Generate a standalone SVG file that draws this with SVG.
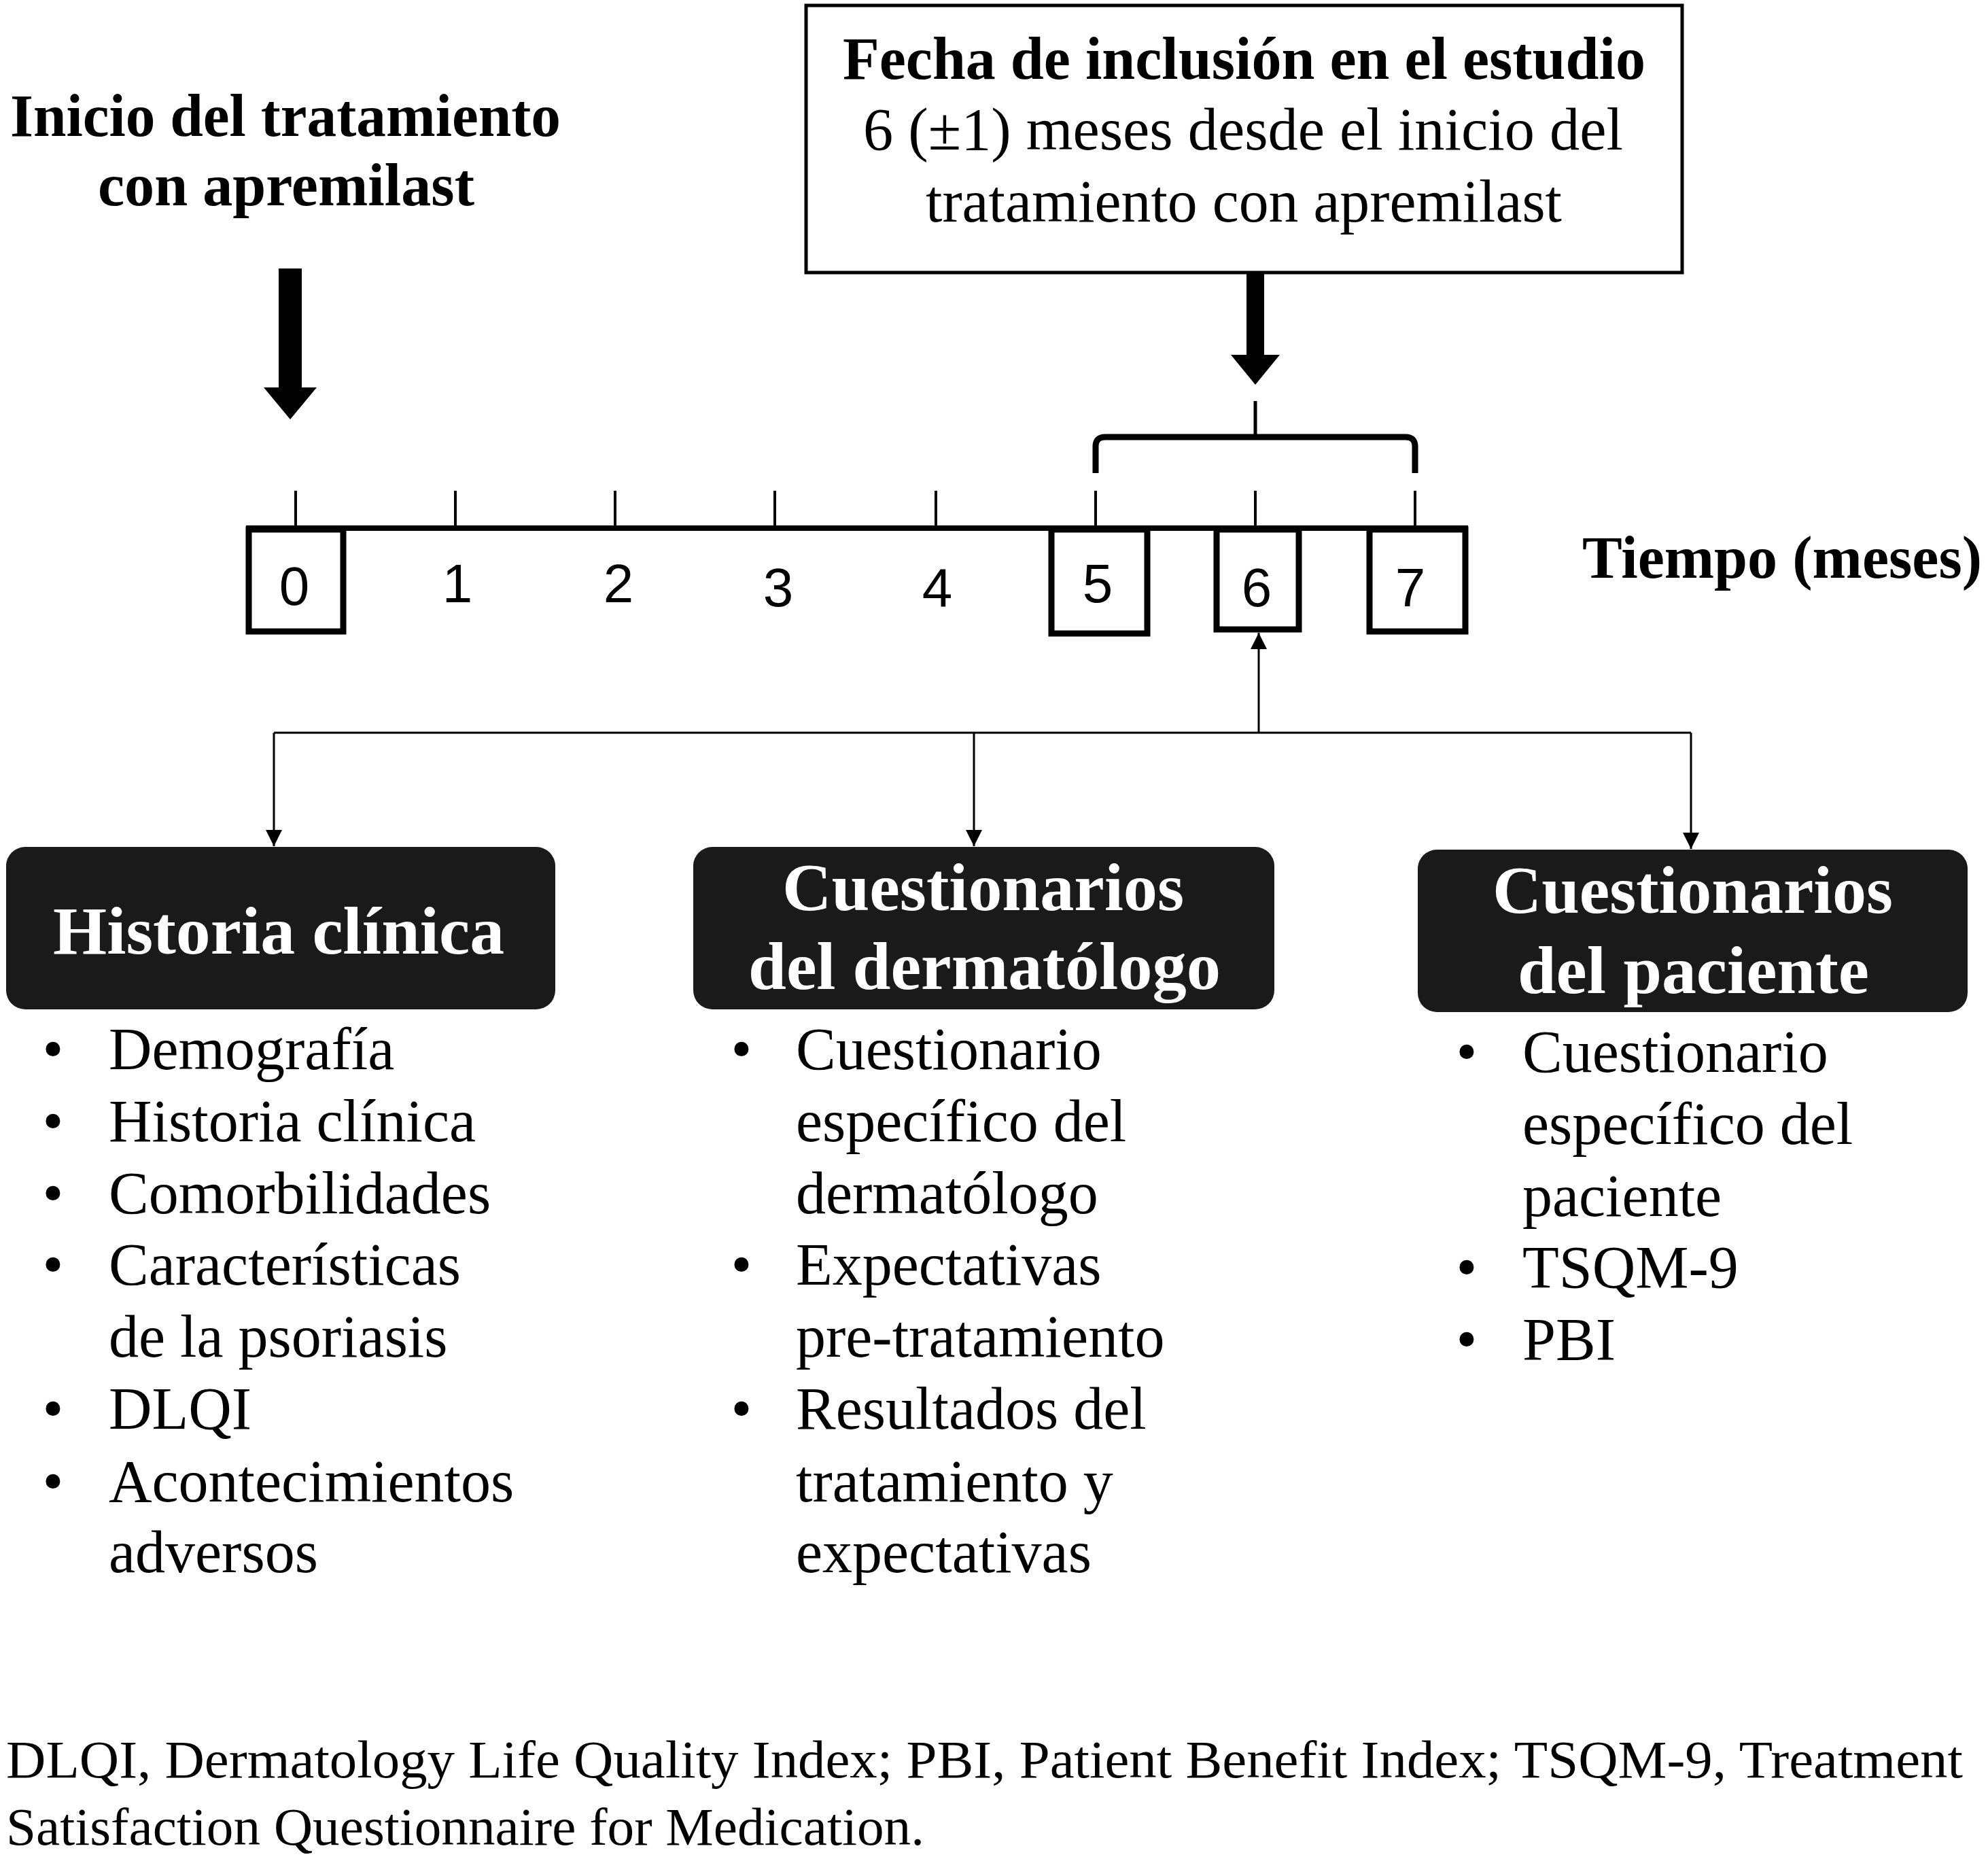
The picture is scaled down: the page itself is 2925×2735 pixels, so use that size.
<svg xmlns="http://www.w3.org/2000/svg" width="2925" height="2735" viewBox="0 0 2925 2735">
<style>
.b{font-family:"Liberation Serif","Times New Roman",serif;font-weight:bold;fill:#000}
.r{font-family:"Liberation Serif","Times New Roman",serif;fill:#000}
.s{font-family:"Liberation Sans",Arial,sans-serif;fill:#000;text-anchor:middle;font-size:80px}
.h{font-family:"Liberation Serif","Times New Roman",serif;font-weight:bold;fill:#fff;font-size:100px}
.li{font-size:88px}
.bu{text-anchor:middle}
.dark{fill:#1a1a1a}
.tick{stroke:#000;stroke-width:4;fill:none}
.tbox{fill:none;stroke:#000;stroke-width:9}
.conn{stroke:#000;stroke-width:3;fill:none}
</style>
<defs>
<marker id="ah" viewBox="0 0 10 10" refX="10" refY="5" markerUnits="userSpaceOnUse" markerWidth="24" markerHeight="24" orient="auto-start-reverse">
<path d="M0,0 L10,5 L0,10 z" fill="#000"/>
</marker>
</defs>
<rect width="2925" height="2735" fill="#fff"/>

<g id="start-label">
<text class="b" x="15" y="200" font-size="88" textLength="810" lengthAdjust="spacingAndGlyphs">Inicio del tratamiento</text>
<text class="b" x="144" y="302" font-size="88" textLength="554" lengthAdjust="spacingAndGlyphs">con apremilast</text>
</g>

<g id="start-arrow">
<polygon points="410,395 444,395 444,570 466,570 427,617 388,570 410,570" fill="#000"/>
</g>

<g id="inclusion-box">
<rect x="1186" y="8" width="1289" height="393" fill="#fff" stroke="#000" stroke-width="5"/>
<text class="b" x="1240" y="116" font-size="88" textLength="1181" lengthAdjust="spacingAndGlyphs">Fecha de inclusión en el estudio</text>
<text class="r" x="1270" y="220" font-size="88" textLength="1118" lengthAdjust="spacingAndGlyphs">6 (±1) meses desde el inicio  del</text>
<text class="r" x="1362" y="326" font-size="88" textLength="936" lengthAdjust="spacingAndGlyphs">tratamiento  con apremilast</text>
</g>

<g id="inclusion-arrow">
<polygon points="1834,401 1860,401 1860,522 1883,522 1847,566 1811,522 1834,522" fill="#000"/>
</g>

<g id="bracket">
<path d="M1847,590 L1847,643" stroke="#000" stroke-width="5" fill="none"/>
<path d="M1612,696 L1612,657 Q1612,643 1626,643 L2068,643 Q2082,643 2082,657 L2082,696" stroke="#000" stroke-width="9" fill="none"/>
</g>

<g id="timeline">
<line x1="362" y1="777" x2="2160" y2="777" stroke="#000" stroke-width="8"/>
<path class="tick" d="M435,722 V777 M670,722 V777 M905,722 V777 M1140,722 V777 M1377,722 V777 M1612,722 V777 M1847,722 V777 M2082,722 V777"/>
</g>

<g id="month-0"><rect class="tbox" x="366" y="779" width="139" height="150"/><text class="s" x="433" y="890">0</text></g>
<g id="month-1"><text class="s" x="673" y="886">1</text></g>
<g id="month-2"><text class="s" x="910" y="886">2</text></g>
<g id="month-3"><text class="s" x="1145" y="892">3</text></g>
<g id="month-4"><text class="s" x="1379" y="892">4</text></g>
<g id="month-5"><rect class="tbox" x="1547" y="779" width="141" height="153"/><text class="s" x="1615" y="886">5</text></g>
<g id="month-6"><rect class="tbox" x="1790" y="779" width="121" height="147" stroke-width="6"/><text class="s" x="1849" y="892">6</text></g>
<g id="month-7"><rect class="tbox" x="2015" y="779" width="141" height="150"/><text class="s" x="2075" y="892">7</text></g>

<g id="time-label">
<text class="b" x="2328" y="850" font-size="88" textLength="588" lengthAdjust="spacingAndGlyphs">Tiempo (meses)</text>
</g>

<g id="connectors">
<line class="conn" x1="1852" y1="931" x2="1852" y2="1078" marker-start="url(#ah)"/>
<line class="conn" x1="403" y1="1078" x2="2488" y2="1078"/>
<line class="conn" x1="403" y1="1078" x2="403" y2="1245" marker-end="url(#ah)"/>
<line class="conn" x1="1433" y1="1078" x2="1433" y2="1245" marker-end="url(#ah)"/>
<line class="conn" x1="2488" y1="1078" x2="2488" y2="1249" marker-end="url(#ah)"/>
</g>

<g id="historia-clinica">
<rect class="dark" x="9" y="1246" width="808" height="239" rx="28"/>
<text class="h" x="78" y="1403" textLength="664" lengthAdjust="spacingAndGlyphs">Historia  clínica</text>
<g class="r li">
<text class="bu" x="78" y="1573">•</text><text x="160" y="1573">Demografía</text>
<text class="bu" x="78" y="1679">•</text><text x="160" y="1679">Historia clínica</text>
<text class="bu" x="78" y="1785">•</text><text x="160" y="1785">Comorbilidades</text>
<text class="bu" x="78" y="1890">•</text><text x="160" y="1890">Características</text>
<text x="160" y="1996">de la psoriasis</text>
<text class="bu" x="78" y="2102">•</text><text x="160" y="2102">DLQI</text>
<text class="bu" x="78" y="2209">•</text><text x="160" y="2209">Acontecimientos</text>
<text x="160" y="2313">adversos</text>
</g>
</g>

<g id="cuestionarios-dermatologo">
<rect class="dark" x="1020" y="1246" width="855" height="239" rx="28"/>
<text class="h" x="1151" y="1339" textLength="591" lengthAdjust="spacingAndGlyphs">Cuestionarios</text>
<text class="h" x="1101" y="1455" textLength="695" lengthAdjust="spacingAndGlyphs">del dermatólogo</text>
<g class="r li">
<text class="bu" x="1091" y="1573">•</text><text x="1171" y="1573">Cuestionario</text>
<text x="1171" y="1679">específico del</text>
<text x="1171" y="1785">dermatólogo</text>
<text class="bu" x="1091" y="1890">•</text><text x="1171" y="1890">Expectativas</text>
<text x="1171" y="1996">pre-tratamiento</text>
<text class="bu" x="1091" y="2102">•</text><text x="1171" y="2102">Resultados del</text>
<text x="1171" y="2209">tratamiento y</text>
<text x="1171" y="2313">expectativas</text>
</g>
</g>

<g id="cuestionarios-paciente">
<rect class="dark" x="2086" y="1250" width="809" height="239" rx="28"/>
<text class="h" x="2196" y="1343" textLength="589" lengthAdjust="spacingAndGlyphs">Cuestionarios</text>
<text class="h" x="2233" y="1461" textLength="517" lengthAdjust="spacingAndGlyphs">del paciente</text>
<g class="r li">
<text class="bu" x="2158" y="1577">•</text><text x="2240" y="1577">Cuestionario</text>
<text x="2240" y="1683">específico del</text>
<text x="2240" y="1789">paciente</text>
<text class="bu" x="2158" y="1894">•</text><text x="2240" y="1894">TSQM-9</text>
<text class="bu" x="2158" y="2000">•</text><text x="2240" y="2000">PBI</text>
</g>
</g>

<g id="footnote">
<text class="r" x="9" y="2615" font-size="78" textLength="2879" lengthAdjust="spacingAndGlyphs">DLQI, Dermatology Life Quality Index; PBI, Patient Benefit Index; TSQM-9, Treatment</text>
<text class="r" x="9" y="2714" font-size="78" textLength="1351" lengthAdjust="spacingAndGlyphs">Satisfaction Questionnaire for Medication.</text>
</g>
</svg>
